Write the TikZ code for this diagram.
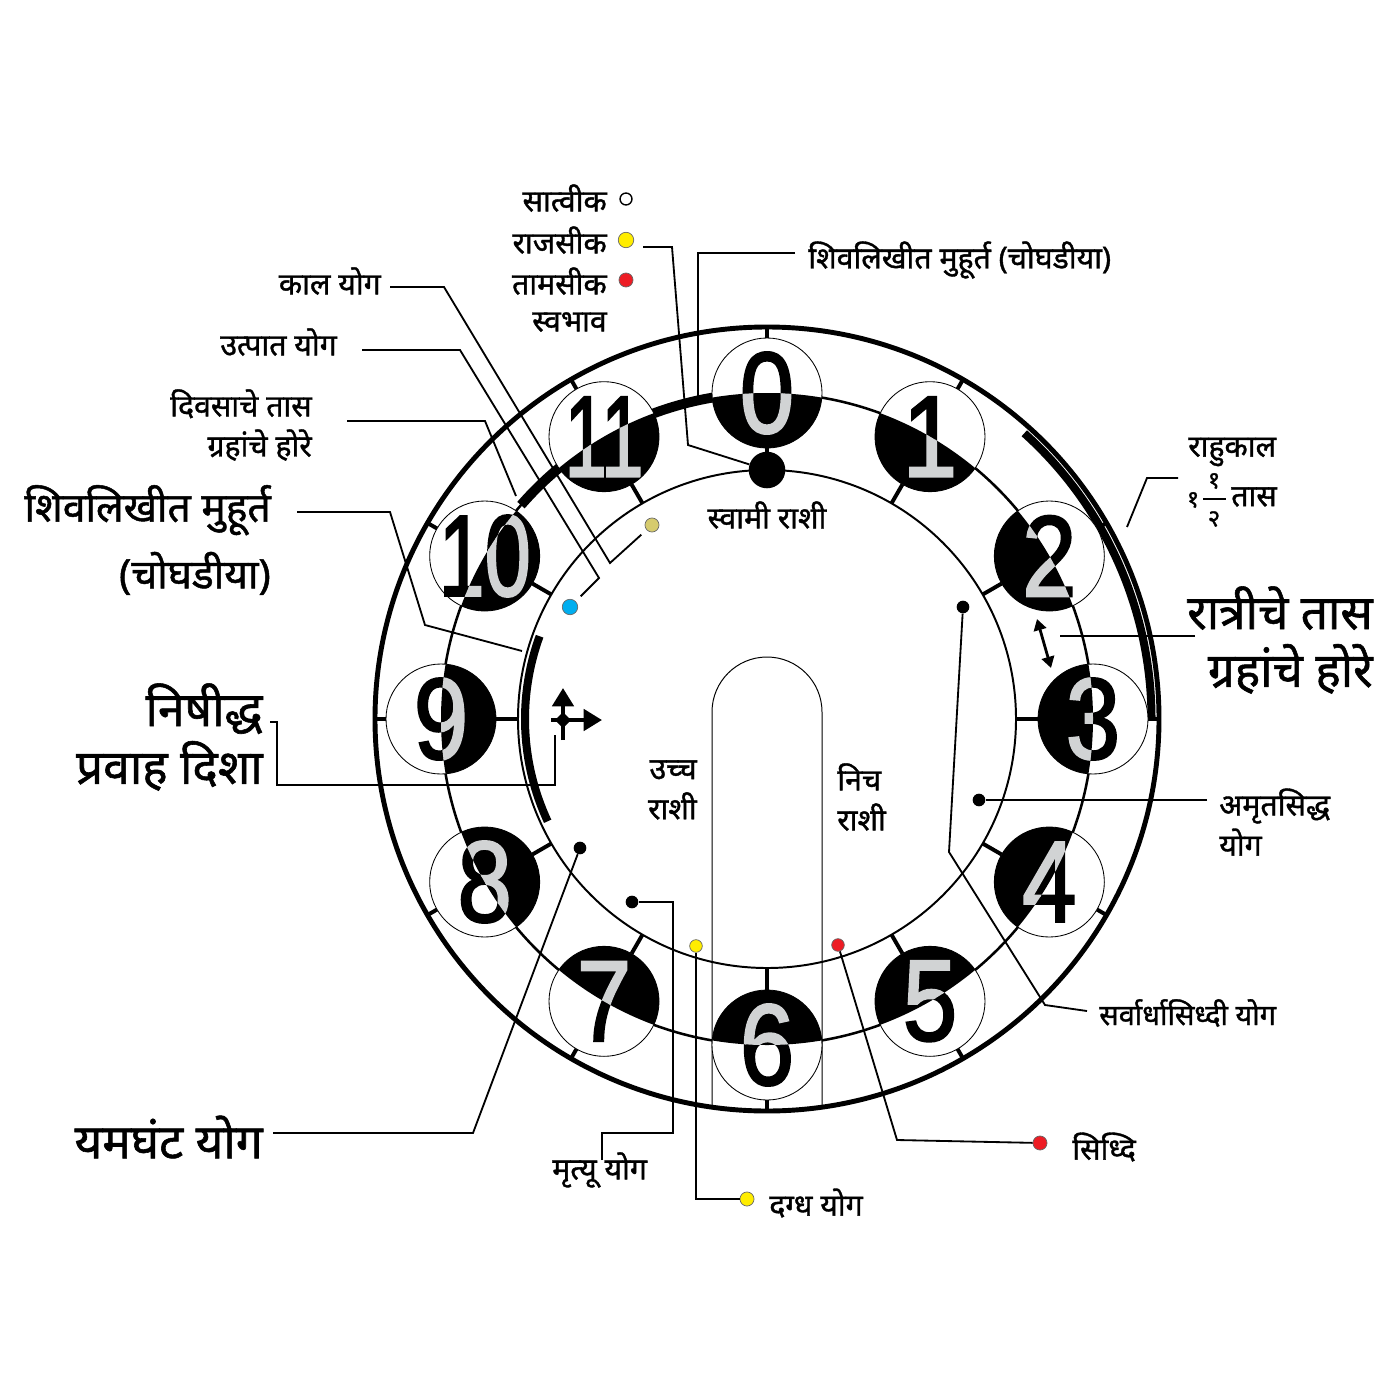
\documentclass[tikz,border=0pt]{standalone}
\usepackage{fontspec}
\setmainfont{Noto Sans}[Script=Devanagari, FakeBold=1.2]
\newfontfamily\numfont{Liberation Sans}[FakeBold=2]
\usetikzlibrary{calc,arrows.meta}

\definecolor{numgrey}{RGB}{209,211,212}
\definecolor{khaki}{RGB}{214,203,110}
\definecolor{dotblue}{RGB}{0,174,239}
\definecolor{dotyellow}{RGB}{255,237,0}
\definecolor{dotred}{RGB}{237,28,36}

\begin{document}
\begin{tikzpicture}[x=0.025cm, y=-0.025cm,
  lbl/.style={font=\fontsize{21.5}{28.5}\selectfont, inner sep=0pt},
  biglbl/.style={font=\fontsize{34}{41}\selectfont, inner sep=0pt},
  leader/.style={line width=1.3pt},
  tick/.style={line width=2.8pt},
  dot/.style={circle, fill=black, inner sep=0pt, minimum size=#1},
  cdot/.style 2 args={circle, draw=black!60, line width=0.5pt, fill=#1, inner sep=0pt, minimum size=#2},
  digit/.style={font=\numfont\fontsize{82}{82}\selectfont, inner sep=0pt}]

  \useasboundingbox (0,0) rectangle (1400,1400);
  \coordinate (C) at (767,719);

  % rings
  \draw[line width=3.5pt] (C) circle (392);
  \draw[line width=1.8pt] (C) circle (326);
  \draw[line width=1.4pt] (C) circle (249);

  % thick arcs
  \draw[line width=7pt] ($(C)+(-139:326)$) arc[start angle=-139, end angle=-90, radius=326];
  \draw[line width=5.7pt] ($(C)+(-160:242)$) arc[start angle=-160, end angle=-205, radius=242];
  \draw[line width=5.7pt] ($(C)+(0:384.5)$) arc[start angle=0, end angle=-48, radius=384.5];

  % ticks
  \foreach \k in {0,...,11} {
    \draw[tick] ($(C)+({30*\k-90}:249)$) -- ($(C)+({30*\k-90}:271)$);
    \draw[tick] ($(C)+({30*\k-90}:381)$) -- ($(C)+({30*\k-90}:392)$);
  }

  % arch
  \draw[line width=0.7pt] (712,1107) -- (712,712) arc[start angle=-180, end angle=0, radius=55] -- (822,1107);

  % hour circles
  \foreach \k/\xs in {0/0.85,1/0.85,2/0.85,3/0.85,4/0.85,5/0.85,6/0.85,7/0.85,8/0.85,9/0.85,10/0.72,11/0.66} {
    \coordinate (N\k) at ($(C)+({30*\k-90}:326)$);
    \fill[white] (N\k) circle (55);
    \node[digit, xscale=\xs] (num\k) at (N\k) {\k};
    \begin{scope}
      \clip (C) circle (326);
      \fill[black] (N\k) circle (55);
      \node[digit, xscale=\xs, text=numgrey] (numg\k) at (N\k) {\k};
    \end{scope}
    \draw[line width=0.6pt] (N\k) circle (55);
  }

  % direction sign
  \draw[line width=3pt, -{Triangle[length=13pt, width=15pt]}] (563,740) -- (563,688);
  \draw[line width=3pt, -{Triangle[length=13pt, width=15pt]}] (551,720) -- (602,720);
  \fill (563,712) -- (571,720) -- (563,728) -- (555,720) -- cycle;
  \draw[line width=2pt, {Triangle[length=8pt, width=9pt]}-{Triangle[length=8pt, width=9pt]}] (1037,619) -- (1051,668);

  % dots
  \node[dot=26pt] (swamiDot) at (767,470) {};
  \node[cdot={khaki}{10pt}] (khakiDot) at (652,525) {};
  \node[cdot={dotblue}{11pt}] (blueDot) at (570,607) {};
  \node[dot=9pt] (sarvaDot) at (963,607) {};
  \node[dot=9pt] (amrutDot) at (979,800) {};
  \node[dot=9pt] (yamDot) at (580,848) {};
  \node[dot=9pt] (mrityuDot) at (632,902) {};
  \node[cdot={dotyellow}{9pt}] (yellowDot) at (696,946) {};
  \node[cdot={dotred}{9pt}] (redDot) at (838,945) {};
  \node[cdot={dotred}{10pt}] (siddhiDot) at (1040,1143) {};
  \node[cdot={dotyellow}{10pt}] (dagdhaDot) at (747,1199) {};
  \node[circle, draw, line width=1pt, inner sep=0pt, minimum size=8.5pt] (satvikDot) at (626,199) {};
  \node[cdot={dotyellow}{11pt}] (rajasDot) at (626,240) {};
  \node[cdot={dotred}{10pt}] (tamasDot) at (626,280) {};

  % leader points
  \coordinate (kalA) at (390,287);
  \coordinate (kalB) at (444,287);
  \coordinate (kalC) at (610,563);
  \coordinate (utpatA) at (362,350);
  \coordinate (utpatB) at (460,350);
  \coordinate (utpatC) at (599,578);
  \coordinate (divasA) at (347,421);
  \coordinate (divasB) at (485,421);
  \coordinate (divasC) at (516,496);
  \coordinate (shivLA) at (297,512);
  \coordinate (shivLB) at (390,512);
  \coordinate (shivLC) at (425,625);
  \coordinate (shivLD) at (522,651);
  \coordinate (shivTA) at (795,253);
  \coordinate (shivTB) at (698,253);
  \coordinate (shivTC) at (698,400);
  \coordinate (rajasA) at (643,247);
  \coordinate (rajasB) at (672,247);
  \coordinate (rajasC) at (688,445);
  \coordinate (rahuA) at (1178,478);
  \coordinate (rahuB) at (1147,478);
  \coordinate (rahuC) at (1127,527);
  \coordinate (ratriA) at (1195,636);
  \coordinate (ratriB) at (1060,636);
  \coordinate (amrutA) at (1207,800);
  \coordinate (sarvaA) at (1087,1011);
  \coordinate (sarvaB) at (1045,1005);
  \coordinate (sarvaC) at (949,852);
  \coordinate (siddhiB) at (897,1140);
  \coordinate (dagdhaB) at (696,1199);
  \coordinate (mrityuA) at (602,1160);
  \coordinate (mrityuB) at (602,1133);
  \coordinate (mrityuC) at (673,1133);
  \coordinate (mrityuD) at (673,902);
  \coordinate (yamA) at (273,1133);
  \coordinate (yamB) at (473,1133);
  \coordinate (nishiA) at (270,722);
  \coordinate (nishiB) at (277,722);
  \coordinate (nishiC) at (277,785);
  \coordinate (nishiD) at (555,785);
  \coordinate (nishiE) at (555,735);

  % leaders
  \draw[leader, shorten >=5pt] (kalA) -- (kalB) -- (kalC) -- (khakiDot);
  \draw[leader, shorten >=5pt] (utpatA) -- (utpatB) -- (utpatC) -- (blueDot);
  \draw[leader] (divasA) -- (divasB) -- (divasC);
  \draw[leader] (shivLA) -- (shivLB) -- (shivLC) -- (shivLD);
  \draw[leader] (shivTA) -- (shivTB) -- (shivTC);
  \draw[leader] (rajasA) -- (rajasB) -- (rajasC) -- (swamiDot);
  \draw[leader] (rahuA) -- (rahuB) -- (rahuC);
  \draw[leader] (ratriA) -- (ratriB);
  \draw[leader] (amrutA) -- (amrutDot);
  \draw[leader] (sarvaA) -- (sarvaB) -- (sarvaC) -- (sarvaDot);
  \draw[leader] (siddhiDot) -- (siddhiB) -- (redDot);
  \draw[leader] (dagdhaDot) -- (dagdhaB) -- (yellowDot);
  \draw[leader] (mrityuA) -- (mrityuB) -- (mrityuC) -- (mrityuD) -- (mrityuDot);
  \draw[leader] (yamA) -- (yamB) -- (yamDot);
  \draw[leader] (nishiA) -- (nishiB) -- (nishiC) -- (nishiD) -- (nishiE);

  % labels
  \node[lbl, anchor=east] (satvik) at (607,198) {सात्वीक};
  \node[lbl, anchor=east] (rajas) at (607,240) {राजसीक};
  \node[lbl, anchor=east] (tamas) at (607,281) {तामसीक};
  \node[lbl, anchor=east] (swabhav) at (607,322) {स्वभाव};
  \node[lbl, anchor=west] (shivTop) at (808,260) {शिवलिखीत मुहूर्त (चोघडीया)};
  \node[lbl, anchor=east] (kal) at (381,281) {काल योग};
  \node[lbl, anchor=east] (utpat) at (337,342) {उत्पात योग};
  \node[lbl, anchor=east, align=right] (divas) at (312,425) {दिवसाचे तास\\ग्रहांचे होरे};
  \node[biglbl, anchor=east, align=right, font=\fontsize{29}{47.5}\selectfont] (shivLeft) at (271,540) {शिवलिखीत मुहूर्त\\(चोघडीया)};
  \node[biglbl, anchor=east, align=right] (nishi) at (263,737) {निषीद्ध\\प्रवाह दिशा};
  \node[biglbl, anchor=east] (yam) at (263,1137) {यमघंट योग};
  \node[biglbl, anchor=east, align=right] (ratri) at (1373,640) {रात्रीचे तास\\ग्रहांचे होरे};
  \node[lbl, anchor=west] (rahu) at (1188,452) {राहुकाल};
  \node[lbl, font=\fontsize{17}{17}\selectfont] (rahuOne) at (1193,500) {१};
  \node[lbl, font=\fontsize{17}{17}\selectfont] (rahuNum) at (1214,481) {१};
  \node[lbl, font=\fontsize{17}{17}\selectfont] (rahuDen) at (1214,519) {२};
  \draw[line width=1.4pt] (1203,499) -- (1226,499);
  \node[lbl, anchor=west] (rahuTas) at (1231,497) {तास};
  \node[lbl] (swami) at (767,515) {स्वामी राशी};
  \node[lbl, anchor=east, align=right] (uchcha) at (697,790) {उच्च\\राशी};
  \node[lbl, anchor=west, align=left] (nicha) at (837,797) {निच\\राशी};
  \node[lbl, anchor=west, align=left] (amrut) at (1219,822) {अमृतसिद्ध\\योग};
  \node[lbl, anchor=west, font=\fontsize{20.5}{28.5}\selectfont] (sarva) at (1099,1013) {सर्वार्धासिध्दी योग};
  \node[lbl, anchor=west] (siddhi) at (1072,1147) {सिध्दि};
  \node[lbl, anchor=west] (dagdha) at (769,1203) {दग्ध योग};
  \node[lbl, anchor=west] (mrityu) at (552,1170) {मृत्यू योग};
\end{tikzpicture}
\end{document}
